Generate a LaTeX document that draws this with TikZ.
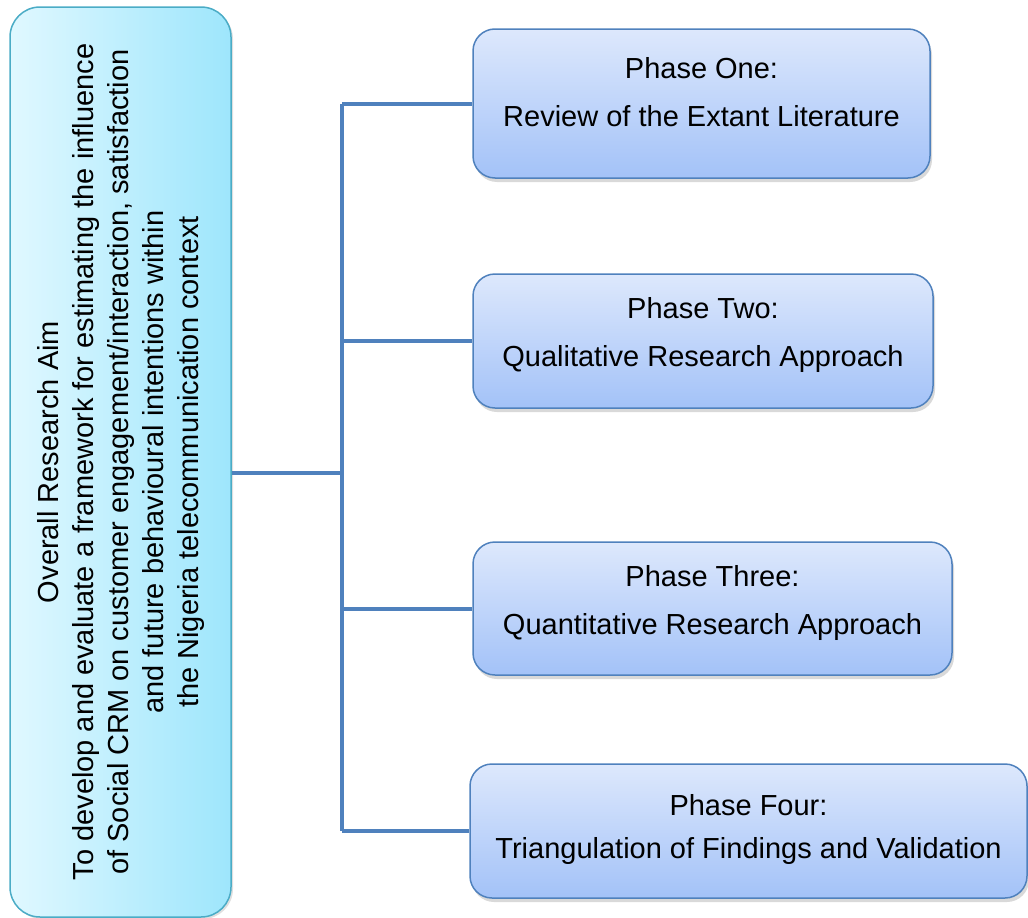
\documentclass[tikz,border=0pt]{standalone}
\usepackage{fontspec}
\setmainfont{Liberation Sans}
\usepackage{xcolor}
\usepackage{tikz}
\usetikzlibrary{positioning, shadows}

\definecolor{aimedge}{HTML}{4BACC6}
\definecolor{aimlight}{HTML}{E0F8FF}
\definecolor{aimdark}{HTML}{9EE6FC}
\definecolor{phaseedge}{HTML}{4F81BD}
\definecolor{phaselight}{HTML}{DDE8FC}
\definecolor{phasedark}{HTML}{A3C2F8}
\definecolor{linkblue}{HTML}{4F81BD}

\begin{document}
\begin{tikzpicture}[x=1pt, y=-1pt,
  aimbox/.style={draw=aimedge, line width=1.5pt, rounded corners=30pt, rotate=90,
    left color=aimlight, right color=aimdark, inner sep=0pt, align=center,
    font=\fontsize{29}{35}\selectfont,
    drop shadow={shadow xshift=2pt, shadow yshift=-2pt, opacity=0.25}},
  phasebox/.style={draw=phaseedge, line width=1.5pt, rounded corners=22pt,
    top color=phaselight, bottom color=phasedark, inner sep=0pt,
    drop shadow={shadow xshift=2pt, shadow yshift=-4pt, opacity=0.3}},
  phasetext/.style={align=center, inner sep=0pt, font=\fontsize{29}{48}\selectfont},
  link/.style={draw=linkblue, line width=4pt}]
\useasboundingbox (0,0) rectangle (1028,918);

% overall aim
\node[aimbox, minimum width=910pt, minimum height=221pt] (aim) at (120.5,462)
  {Overall Research Aim\\
   To develop and evaluate a framework for estimating the influence\\
   of Social CRM on customer engagement/interaction, satisfaction\\
   and future behavioural intentions within\\
   the Nigeria telecommunication context};

% phases
\node[phasebox, minimum width=457pt, minimum height=149pt] (p1) at (701.5,103.5) {};
\node[phasebox, minimum width=460pt, minimum height=134pt] (p2) at (703,341) {};
\node[phasebox, minimum width=479pt, minimum height=133pt] (p3) at (712.5,608.5) {};
\node[phasebox, minimum width=557pt, minimum height=134pt] (p4) at (748.5,831) {};

\node[phasetext] (t1) at (701.5,92) {Phase One:\\Review of the Extant Literature};
\node[phasetext] (t2) at (703,335) {Phase Two:\\Qualitative Research Approach};
\node[phasetext] (t3) at (712.5,602.5) {Phase Three:\\Quantitative Research Approach};
\node[phasetext] (t4) at (748.5,829.5) {Phase Four:\\[-5pt]Triangulation of Findings and Validation};

% connectors
\coordinate (hub) at (342,473);
\draw[link] (aim.south |- hub) -- (hub);
\draw[link] (p1.west -| hub) -- (p4.west -| hub);
\foreach \i in {1,...,4}
  \draw[link] (p\i.west -| hub) -- (p\i.west);
\end{tikzpicture}
\end{document}
